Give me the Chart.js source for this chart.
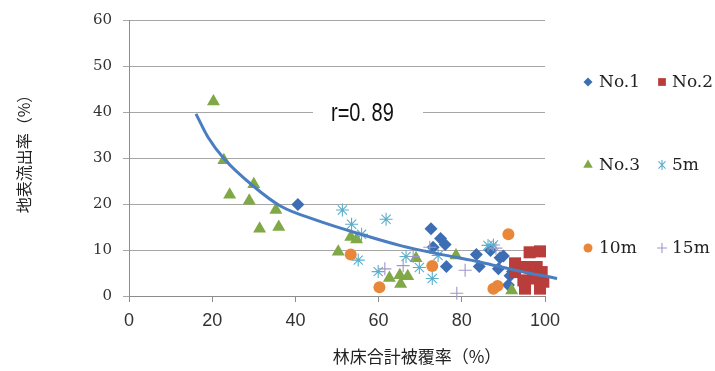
<!DOCTYPE html>
<html><head><meta charset="utf-8">
<script src="https://cdn.jsdelivr.net/npm/chart.js@4"></script>
<style>html,body{margin:0;padding:0;background:#fff}#wrap{width:715px;height:371px;position:relative}</style>
</head><body><div id="wrap"><canvas id="c" width="715" height="371"></canvas></div>
<script>
const seriesNames = ['No.1','No.2','No.3','5m','10m','15m'];
const no1 = [[40.6,19.9],[72.6,14.6],[74.9,12.5],[76.0,11.2],[73.1,10.6],[76.3,6.4],[83.5,9.0],[84.2,6.4],[86.9,9.9],[89.2,8.3],[90.0,8.7],[88.8,5.9],[91.6,4.4],[91.2,2.4],[92.2,5.3]];
const no2 = [[96.3,9.5],[98.8,9.7],[92.8,7.1],[95.6,6.3],[98.0,6.3],[99.2,5.2],[92.8,5.2],[94.8,3.4],[97.2,3.8],[99.6,3.1],[95.2,1.6],[98.8,1.6]];
const no3 = [[20.3,42.3],[22.8,29.5],[30.0,24.3],[24.2,22.0],[28.9,20.7],[35.3,18.7],[31.4,14.6],[36.0,15.0],[50.3,9.6],[53.3,12.8],[54.7,12.3],[62.6,3.9],[65.1,4.5],[65.3,2.6],[67.0,4.3],[69.0,8.2],[78.6,8.8],[92.0,1.2]];
const s5m = [[51.3,18.7],[53.5,15.6],[55.9,13.4],[61.8,16.7],[55.1,7.8],[59.9,5.3],[66.6,8.6],[69.8,6.2],[72.9,3.8],[74.3,8.8],[86.3,11.0],[87.6,11.1]];
const s10m = [[53.3,9.0],[60.2,1.9],[72.9,6.5],[91.2,13.4],[87.6,1.6],[88.6,2.2]];
const s15m = [[61.5,5.9],[65.9,6.6],[68.3,8.6],[72.3,10.6],[80.8,5.6],[78.8,0.6],[88.2,10.4]];
const trendPts = [[16.1,39.6],[19.0,34.5],[22.8,29.9],[30.0,23.8],[36.5,19.5],[45.0,16.5],[55.8,13.4],[65.5,10.9],[74.7,9.1],[84.8,7.3],[92.8,5.6],[102.9,3.8]];
const xTicks = [0,20,40,60,80,100];
const yTicks = [0,10,20,30,40,50,60];
const rLabel = 'r=0. 89';
const xTitle = '林床合計被覆率（%）';
const yTitle = '地表流出率（%）';

const colors = ['#3D6EB4','#B93D3B','#80A846','#5AAFCB','#E8873A','#9E97C7'];
const styles = ['rectRot','rect','triangle','star','circle','cross'];
const radii = [6.5,8.5,7.5,6.5,6,6.5];

const toXY = a => a.map(p => ({x:p[0], y:p[1]}));
const series = [no1,no2,no3,s5m,s10m,s15m];

const datasets = series.map((s,i) => ({
  label: seriesNames[i],
  data: toXY(s),
  pointStyle: styles[i],
  pointRadius: radii[i],
  pointHoverRadius: radii[i],
  backgroundColor: colors[i],
  borderColor: colors[i],
  borderWidth: (styles[i]==='star'||styles[i]==='cross') ? 1.1 : 0,
  clip: false,
  order: 6 - i
}));
datasets.push({
  label: 'trend',
  data: toXY(trendPts),
  showLine: true,
  pointRadius: 0,
  borderColor: '#4A7EC0',
  borderWidth: 3,
  cubicInterpolationMode: 'monotone',
  fill: false,
  clip: false,
  order: -1
});

function drawMarker(ctx, style, x, y, r, color){
  ctx.save();
  ctx.fillStyle = color; ctx.strokeStyle = color; ctx.lineWidth = 1.1;
  ctx.beginPath();
  if (style==='rectRot'){ ctx.moveTo(x,y-r); ctx.lineTo(x+r,y); ctx.lineTo(x,y+r); ctx.lineTo(x-r,y); ctx.closePath(); ctx.fill(); }
  else if (style==='rect'){ const s=r*Math.SQRT1_2; ctx.rect(x-s,y-s,2*s,2*s); ctx.fill(); }
  else if (style==='triangle'){ ctx.moveTo(x,y-r); ctx.lineTo(x+r*0.866,y+r/2); ctx.lineTo(x-r*0.866,y+r/2); ctx.closePath(); ctx.fill(); }
  else if (style==='circle'){ ctx.arc(x,y,r,0,Math.PI*2); ctx.fill(); }
  else if (style==='star'){ const d=r*Math.SQRT1_2; ctx.moveTo(x,y-r); ctx.lineTo(x,y+r); ctx.moveTo(x-d,y-d); ctx.lineTo(x+d,y+d); ctx.moveTo(x+d,y-d); ctx.lineTo(x-d,y+d); ctx.stroke(); }
  else if (style==='cross'){ ctx.moveTo(x,y-r); ctx.lineTo(x,y+r); ctx.moveTo(x-r,y); ctx.lineTo(x+r,y); ctx.stroke(); }
  ctx.restore();
}

const overlay = {
  id: 'overlay',
  afterDraw(chart){
    const ctx = chart.ctx;
    ctx.save();
    ctx.fillStyle = '#fff';
    ctx.fillRect(313, 96, 110, 34);
    ctx.fillStyle = '#111';
    ctx.font = '25px "Liberation Sans"';
    ctx.textBaseline = 'middle'; ctx.textAlign = 'left';
    ctx.save(); ctx.translate(331, 114); ctx.scale(0.8, 1); ctx.fillText(rLabel, 0, 0); ctx.restore();
    ctx.fillStyle = '#222';
    ctx.font = '17px "Noto Sans CJK JP"';
    ctx.textAlign = 'center';
    ctx.fillText(xTitle, 417, 357);
    ctx.save(); ctx.translate(24, 150); ctx.rotate(-Math.PI/2);
    ctx.font = '16px "Noto Sans CJK JP"';
    ctx.fillText(yTitle, 0, 0); ctx.restore();
    const rows = [82, 165, 248];
    const mx = [588, 662], tx = [599, 672];
    const lr = [4.5, 5.5, 5.5, 5, 4.5, 5];
    ctx.font = '17px "DejaVu Serif"';
    ctx.textAlign = 'left';
    for (let i = 0; i < 6; i++){
      const row = Math.floor(i/2), col = i % 2;
      drawMarker(ctx, styles[i], mx[col], rows[row], lr[i], colors[i]);
      ctx.fillStyle = '#222';
      ctx.fillText(seriesNames[i], tx[col], rows[row] + 1);
    }
    ctx.restore();
  }
};

new Chart(document.getElementById('c'), {
  type: 'scatter',
  data: { datasets },
  options: {
    responsive: false, animation: false, devicePixelRatio: 1,
    layout: { padding: { left: 0, right: 170, top: 16, bottom: 0 } },
    plugins: { legend: { display: false }, tooltip: { enabled: false } },
    scales: {
      x: {
        type: 'linear', min: 0, max: 100,
        afterBuildTicks: s => { s.ticks = xTicks.map(v => ({value: v})); },
        afterFit: s => { s.height = 75; },
        grid: { drawOnChartArea: false, drawTicks: true, tickLength: 6, color: '#8c8c8c' },
        border: { color: '#8c8c8c' },
        ticks: { font: { family: '"Liberation Sans"', size: 18 }, color: '#333', padding: 8, maxRotation: 0 }
      },
      y: {
        type: 'linear', min: 0, max: 60,
        afterBuildTicks: s => { s.ticks = yTicks.map(v => ({value: v})); },
        afterFit: s => { s.width = 129; },
        grid: { color: '#a6a6a6', tickLength: 6 },
        border: { color: '#8c8c8c' },
        ticks: { font: { family: '"DejaVu Serif"', size: 15 }, color: '#333', padding: 11 }
      }
    }
  },
  plugins: [overlay]
});
</script></body></html>
